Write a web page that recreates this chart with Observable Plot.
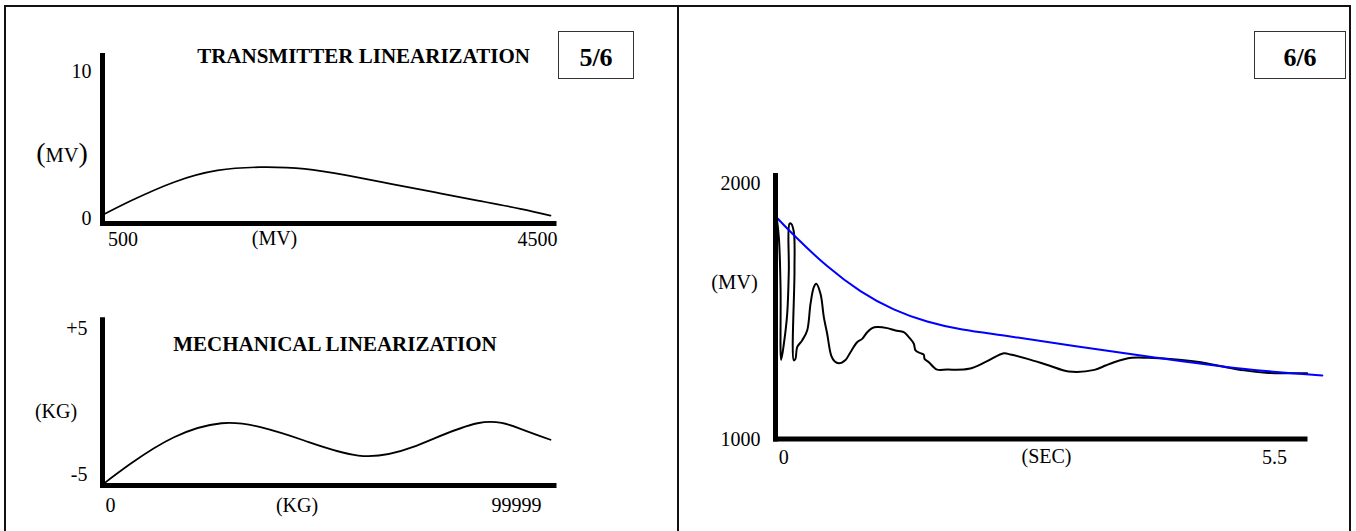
<!DOCTYPE html>
<html>
<head>
<meta charset="utf-8">
<script src="https://cdn.jsdelivr.net/npm/d3@7"></script>
<script src="https://cdn.jsdelivr.net/npm/@observablehq/plot@0.6"></script>
<style>
  html, body { margin: 0; padding: 0; background: #fff; }
  #wrap { position: relative; width: 1356px; height: 531px; overflow: hidden; background: #fff;
          font-family: "Liberation Serif", "Times New Roman", Times, serif; }
  .ln { position: absolute; background: #111; z-index: 5; }
  .box { position: absolute; border: 1.3px solid #333; box-sizing: border-box; display: flex;
         align-items: center; justify-content: center; font-weight: bold; font-size: 26px;
         padding-top: 6px; color: #000; z-index: 5; }
  .chart { position: absolute; }
  .chart svg { overflow: visible; }
</style>
</head>
<body>
<div id="wrap"></div>
<script>
// ---------------- data ----------------
const pages = ["5/6", "6/6"];

// Panel 5/6, top: transmitter linearization
const txTitle = "TRANSMITTER LINEARIZATION";
const txX = [500, 750, 1130, 1520, 1900, 2300, 2680, 3070, 3460, 3850, 4230, 4500];
const txY = [0.27, 1.22, 2.47, 3.27, 3.49, 3.38, 2.93, 2.36, 1.79, 1.22, 0.66, 0.2];
const txXTicks = [500, 4500];
const txXTickLabels = ["500", "4500"];
const txYTicks = [0, 10];
const txYTickLabels = ["0", "10"];
const txXLabel = "(MV)";
const txYLabel = "(MV)";

// Panel 5/6, bottom: mechanical linearization
const mechTitle = "MECHANICAL LINEARIZATION";
const mechX = [0, 6040, 15770, 26400, 35120, 44880, 57000, 69130, 83670, 93290, 99999];
const mechY = [-5.64, -4.27, -2.45, -1.49, -1.76, -2.67, -3.7, -3.13, -1.49, -1.87, -2.62];
const mechXTicks = [0, 99999];
const mechXTickLabels = ["0", "99999"];
const mechYTicks = [-5, 5];
const mechYTickLabels = ["-5", "+5"];
const mechXLabel = "(KG)";
const mechYLabel = "(KG)";

// Panel 6/6: response (black) and fitted decay (blue)
const secX = [0, 0.037, 0.056, 0.063, 0.093, 0.13, 0.148, 0.156, 0.174, 0.204, 0.211, 0.204, 0.222, 0.241,
  0.296, 0.352, 0.389, 0.426, 0.452, 0.5, 0.537, 0.574, 0.619, 0.656, 0.704, 0.778, 0.833, 0.907, 0.963,
  1.019, 1.074, 1.13, 1.241, 1.333, 1.426, 1.481, 1.537, 1.556, 1.611, 1.648, 1.656, 1.704, 1.759, 1.796,
  1.907, 2.148, 2.352, 2.537, 2.611, 2.8, 3.04, 3.256, 3.544, 3.667, 3.762, 3.956, 4.144, 4.486, 4.727,
  4.967, 5.208, 5.449, 5.907];
const secY = [1901, 1790, 1595, 1311, 1374, 1491, 1660, 1843, 1843, 1810, 1660, 1309, 1315, 1361,
  1387, 1426, 1530, 1595, 1608, 1569, 1478, 1413, 1328, 1306, 1298, 1311, 1341, 1380, 1393,
  1419, 1435, 1439, 1435, 1426, 1419, 1400, 1374, 1348, 1337, 1331, 1315, 1302, 1282, 1273,
  1273, 1276, 1306, 1337, 1332, 1315, 1289, 1266, 1272, 1289, 1302, 1319, 1319, 1312, 1302,
  1285, 1270, 1261, 1259];
const fitX = [0, 0.203, 0.574, 0.944, 1.314, 1.686, 2.056, 2.556, 3.278, 4.244, 5.208, 6.076];
const fitY = [1872, 1797, 1673, 1575, 1504, 1458, 1428, 1406, 1367, 1319, 1272, 1250];
const secXTicks = [0, 5.5];
const secXTickLabels = ["0", "5.5"];
const secYTicks = [1000, 2000];
const secYTickLabels = ["1000", "2000"];
const secXLabel = "(SEC)";
const secYLabel = "(MV)";

// ---------------- helpers ----------------
const serif = '"Liberation Serif", "Times New Roman", Times, serif';
const wrap = document.getElementById("wrap");
const lab = (ticks, labels) => { const m = new Map(ticks.map((t, i) => [t, labels[i]])); return d => m.get(d); };
const rows = (xs, ys) => xs.map((x, i) => ({x, y: ys[i]}));
const baseStyle = {fontFamily: serif, fontSize: "20px", background: "transparent", color: "#000", overflow: "visible"};
const axisOpts = {tickSize: 0, label: null, fontSize: 20};

function place(el, left, top) {
  const d = document.createElement("div");
  d.className = "chart";
  d.style.left = left + "px";
  d.style.top = top + "px";
  d.appendChild(el);
  wrap.appendChild(d);
  return el;
}

// ---------------- top-left chart ----------------
const fTx = lab(txXTicks, txXTickLabels);
const plotTx = Plot.plot({
  width: 678, height: 265,
  marginLeft: 102, marginRight: 124.5, marginTop: 55, marginBottom: 42,
  style: baseStyle,
  x: {domain: txXTicks, range: [103, 550]},
  y: {domain: txYTicks, range: [218, 71]},
  marks: [
    Plot.line(rows(txX, txY), {x: "x", y: "y", curve: "natural", stroke: "#000", strokeWidth: 1.7}),
    Plot.frame({anchor: "left", stroke: "#000", strokeWidth: 5}),
    Plot.frame({anchor: "bottom", stroke: "#000", strokeWidth: 5, strokeLinecap: "square"}),
    Plot.axisY(txYTicks, {...axisOpts, tickPadding: 11, tickFormat: lab(txYTicks, txYTickLabels)}),
    Plot.axisX([txXTicks[0]], {...axisOpts, tickPadding: 8, dx: 19.5, tickFormat: fTx}),
    Plot.axisX([txXTicks[1]], {...axisOpts, tickPadding: 8, dx: -13, tickFormat: fTx}),
    Plot.text([txXLabel], {text: d => d, frameAnchor: "bottom", textAnchor: "middle", lineAnchor: "middle", dx: -53.75, dy: 15.5, fontSize: 20}),
    Plot.text([txTitle], {text: d => d, frameAnchor: "top", textAnchor: "middle", lineAnchor: "middle", dx: 35.25, dy: 0.5, fontSize: 21, fontWeight: "bold"}),
    Plot.text([txYLabel], {text: d => d, frameAnchor: "left", textAnchor: "middle", lineAnchor: "middle", dx: -40.5, dy: 16.3, fontSize: 20})
  ]
});
place(plotTx, 0, 0);
// large parentheses around the small-caps unit on the y label
{
  const gs = plotTx.querySelectorAll('g[aria-label="text"]');
  const t = d3.select(gs[gs.length - 1]).select("text");
  t.text(null);
  t.append("tspan").attr("font-size", 28).text(txYLabel.slice(0, 1));
  t.append("tspan").attr("font-size", 20.5).text(txYLabel.slice(1, -1));
  t.append("tspan").attr("font-size", 28).text(txYLabel.slice(-1));
}

// ---------------- bottom-left chart ----------------
const fMech = lab(mechXTicks, mechXTickLabels);
const plotMech = Plot.plot({
  width: 678, height: 266,
  marginLeft: 102, marginRight: 124.5, marginTop: 54.3, marginBottom: 46,
  style: baseStyle,
  x: {domain: mechXTicks, range: [103, 550]},
  y: {domain: mechYTicks, range: [209, 63]},
  marks: [
    Plot.line(rows(mechX, mechY), {x: "x", y: "y", curve: "natural", stroke: "#000", strokeWidth: 1.8}),
    Plot.frame({anchor: "left", stroke: "#000", strokeWidth: 5}),
    Plot.frame({anchor: "bottom", stroke: "#000", strokeWidth: 5, strokeLinecap: "square"}),
    Plot.axisY(mechYTicks, {...axisOpts, tickPadding: 15, tickFormat: lab(mechYTicks, mechYTickLabels)}),
    Plot.axisX([mechXTicks[0]], {...axisOpts, tickPadding: 12.5, dx: 7, tickFormat: fMech}),
    Plot.axisX([mechXTicks[1]], {...axisOpts, tickPadding: 12.5, dx: -34, tickFormat: fMech}),
    Plot.text([mechXLabel], {text: d => d, frameAnchor: "bottom", textAnchor: "middle", lineAnchor: "middle", dx: -31.25, dy: 20, fontSize: 20}),
    Plot.text([mechTitle], {text: d => d, frameAnchor: "top", textAnchor: "middle", lineAnchor: "middle", dx: 6.75, dy: 24.2, fontSize: 21, fontWeight: "bold"}),
    Plot.text([mechYLabel], {text: d => d, frameAnchor: "left", textAnchor: "middle", lineAnchor: "middle", dx: -46.5, dy: 8.85, fontSize: 20})
  ]
});
place(plotMech, 0, 265);

// ---------------- right chart ----------------
const fSec = lab(secXTicks, secXTickLabels);
const plotSec = Plot.plot({
  width: 678, height: 531,
  marginLeft: 97, marginRight: 51.5, marginTop: 175, marginBottom: 92.5,
  style: baseStyle,
  x: {domain: secXTicks, range: [97, 592]},
  y: {domain: secYTicks, range: [439, 183]},
  marks: [
    Plot.line(rows(secX, secY), {x: "x", y: "y", curve: "catmull-rom", stroke: "#000", strokeWidth: 2}),
    Plot.line(rows(fitX, fitY), {x: "x", y: "y", curve: "basis", stroke: "#0000ff", strokeWidth: 2}),
    Plot.frame({anchor: "left", stroke: "#000", strokeWidth: 5}),
    Plot.frame({anchor: "bottom", stroke: "#000", strokeWidth: 5, strokeLinecap: "square"}),
    Plot.axisY(secYTicks, {...axisOpts, tickPadding: 15, tickFormat: lab(secYTicks, secYTickLabels)}),
    Plot.axisX([secXTicks[0]], {...axisOpts, tickPadding: 10.3, dx: 8.3, tickFormat: fSec}),
    Plot.axisX([secXTicks[1]], {...axisOpts, tickPadding: 10.3, dx: 4, tickFormat: fSec}),
    Plot.text([secXLabel], {text: d => d, frameAnchor: "bottom", textAnchor: "middle", lineAnchor: "middle", dx: 6.25, dy: 18, fontSize: 20}),
    Plot.text([secYLabel], {text: d => d, frameAnchor: "left", textAnchor: "middle", lineAnchor: "middle", dx: -41, dy: -25, fontSize: 20.5})
  ]
});
place(plotSec, 678, 0);

// ---------------- page frame & page boxes ----------------
function line(l, t, w, h) {
  const d = document.createElement("div");
  d.className = "ln";
  Object.assign(d.style, {left: l + "px", top: t + "px", width: w + "px", height: h + "px"});
  wrap.appendChild(d);
}
line(4, 5, 2, 526);        // left border
line(4, 5, 1347, 2);       // top border
line(1348.5, 5, 2, 526);   // right border
line(677, 5, 2, 526);      // divider

function box(text, l, t, w, h) {
  const d = document.createElement("div");
  d.className = "box";
  Object.assign(d.style, {left: l + "px", top: t + "px", width: w + "px", height: h + "px"});
  d.textContent = text;
  wrap.appendChild(d);
}
box(pages[0], 558, 31, 76, 48);
box(pages[1], 1254, 31, 92, 48);
</script>
</body>
</html>
